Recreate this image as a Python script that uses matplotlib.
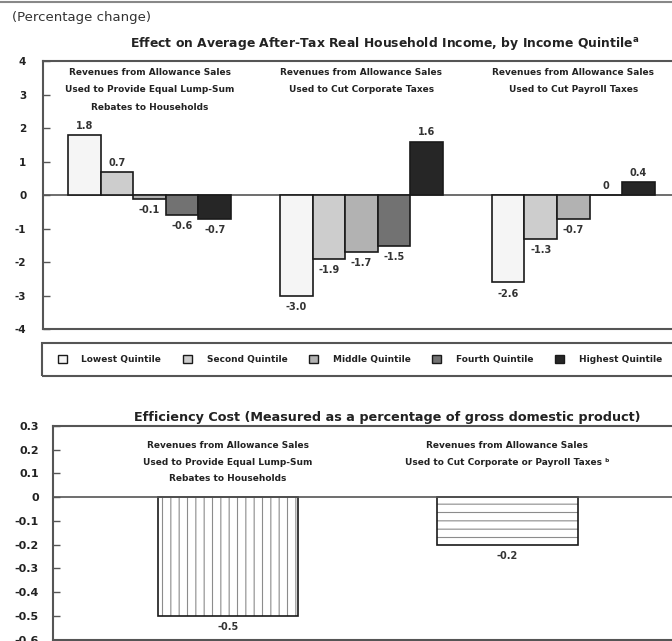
import numpy as np
import matplotlib
matplotlib.use("Agg")
import matplotlib.pyplot as plt
from matplotlib.patches import Patch, Rectangle
from matplotlib.lines import Line2D
from matplotlib.ticker import FixedLocator, FixedFormatter

plt.rcParams["font.family"] = ["DejaVu Sans"]
plt.rcParams["axes.unicode_minus"] = False
plt.rcParams["hatch.linewidth"] = 0.8
plt.rcParams["mathtext.default"] = "regular"

# Data
quintiles = ["Lowest Quintile", "Second Quintile", "Middle Quintile",
             "Fourth Quintile", "Highest Quintile"]
scenarios = [
    "Revenues from Allowance Sales\nUsed to Provide Equal Lump-Sum\nRebates to Households",
    "Revenues from Allowance Sales\nUsed to Cut Corporate Taxes",
    "Revenues from Allowance Sales\nUsed to Cut Payroll Taxes",
]
lump_sum = [1.8, 0.7, -0.1, -0.6, -0.7]
corporate = [-3.0, -1.9, -1.7, -1.5, 1.6]
payroll = [-2.6, -1.3, -0.7, 0.0, 0.4]
income_ticks = [4, 3, 2, 1, 0, -1, -2, -3, -4]
income_tick_labels = ["4", "3", "2", "1", "0", "-1", "-2", "-3", "-4"]

eff_scenarios = [
    "Revenues from Allowance Sales\nUsed to Provide Equal Lump-Sum\nRebates to Households",
    "Revenues from Allowance Sales\nUsed to Cut Corporate or Payroll Taxes \u1d47",
]
eff_cost = [-0.5, -0.2]
eff_ticks = [0.3, 0.2, 0.1, 0, -0.1, -0.2, -0.3, -0.4, -0.5, -0.6]
eff_tick_labels = ["0.3", "0.2", "0.1", "0", "-0.1", "-0.2", "-0.3", "-0.4", "-0.5", "-0.6"]

colors = ["#f5f5f5", "#cdcdcd", "#b2b2b2", "#727272", "#262626"]
frame = "#555555"
ink = "#222222"


def fmt(v):
    return "0" if v == 0 else f"{v:.1f}"


W, H = 672, 641
fig = plt.figure(figsize=(W / 100, H / 100), dpi=100)

# rule across the top
fig.add_artist(Line2D([0, 1], [1 - 2 / H] * 2, transform=fig.transFigure,
                      color="#888888", lw=1.5))
fig.text(12 / W, 1 - 18 / H, "(Percentage change)", fontsize=9.5, color="#333333",
         ha="left", va="center")
fig.text(385 / W, 1 - 44 / H,
         "Effect on Average After-Tax Real Household Income, by Income Quintile$^{a}$",
         fontsize=8.9, fontweight="bold", color=ink, ha="center", va="center")

# ---- top panel: income effects ----
ax1 = fig.add_axes([43 / W, 1 - 329.4 / H, 1 - 43 / W, (329.4 - 61) / H])
groups = [lump_sum, corporate, payroll]
step = 6.5
for i, q in enumerate(quintiles):
    x = np.arange(len(groups)) * step + i
    vals = [g[i] for g in groups]
    ax1.bar(x, vals, width=1.0, color=colors[i], edgecolor="#1a1a1a",
            linewidth=1.2, label=q, zorder=3)
    for xi, v in zip(x, vals):
        ax1.annotate(fmt(v), (xi, v), xytext=(0, 6.5 if v >= 0 else -8),
                     textcoords="offset points", ha="center", va="center",
                     fontsize=7, fontweight="bold", color="#333333")
for g, label in enumerate(scenarios):
    ax1.text(g * step + 2, 3.79, label, ha="center", va="top", fontsize=6.5,
             fontweight="bold", color=ink, linespacing=2.2)
ax1.axhline(0, color=frame, lw=1.2, zorder=2)
ax1.set_xlim(-1.27, 18.03)
ax1.set_ylim(-4, 4)
ax1.set_xticks([])
ax1.yaxis.set_major_locator(FixedLocator(income_ticks))
ax1.yaxis.set_major_formatter(FixedFormatter(income_tick_labels))
ax1.tick_params(axis="y", direction="in", length=5, width=1, color=frame,
                pad=12, labelsize=7.5, labelcolor=ink)
for t in ax1.get_yticklabels():
    t.set_fontweight("bold")
ax1.spines["right"].set_visible(False)
for s in ["left", "top", "bottom"]:
    ax1.spines[s].set_color(frame)
    ax1.spines[s].set_linewidth(1.5)

# legend strip
fig.add_artist(Rectangle((42 / W, 1 - 376 / H), 1, 33 / H, transform=fig.transFigure,
                         fill=False, edgecolor=frame, lw=1.5))
handles = [Patch(facecolor=c, edgecolor="#1a1a1a", lw=1) for c in colors]
fig.legend(handles, quintiles, ncol=5, loc="center",
           bbox_to_anchor=(58 / W, 1 - 376 / H, (662 - 58) / W, 33 / H),
           mode="expand", frameon=False, borderpad=0, borderaxespad=0,
           handlelength=1.0, handleheight=1.0, handletextpad=1.6,
           prop={"size": 6.5, "weight": "bold"}, labelcolor=ink)

fig.text(387 / W, 1 - 418 / H,
         "Efficiency Cost (Measured as a percentage of gross domestic product)",
         fontsize=9.2, fontweight="bold", color=ink, ha="center", va="center")

# ---- bottom panel: efficiency cost ----
ax2 = fig.add_axes([52.7 / W, 1 - 639.5 / H, 1 - 52.7 / W, 213.5 / H])
xb = np.arange(len(eff_cost))
hatched = ax2.bar(xb, eff_cost, width=0.504, color="white", edgecolor="#8c8c8c",
                  linewidth=0, zorder=2)
for p, h in zip(hatched, ["||", "--"]):
    p.set_hatch(h)
ax2.bar(xb, eff_cost, width=0.504, fill=False, edgecolor="#1a1a1a",
        linewidth=1.2, zorder=3)
for xi, v in zip(xb, eff_cost):
    ax2.annotate(fmt(v), (xi, v), xytext=(0, -8), textcoords="offset points",
                 ha="center", va="center", fontsize=7, fontweight="bold",
                 color="#333333")
for xi, label in zip(xb, eff_scenarios):
    ax2.text(xi, 0.237, label, ha="center", va="top", fontsize=6.5,
             fontweight="bold", color=ink, linespacing=2.1)
ax2.axhline(0, color=frame, lw=1.2, zorder=4)
ax2.set_xlim(-0.628, 1.590)
ax2.set_ylim(-0.6, 0.3)
ax2.set_xticks([])
ax2.yaxis.set_major_locator(FixedLocator(eff_ticks))
ax2.yaxis.set_major_formatter(FixedFormatter(eff_tick_labels))
ax2.tick_params(axis="y", direction="in", length=5, width=1, color=frame,
                pad=10, labelsize=8, labelcolor=ink)
for t in ax2.get_yticklabels():
    t.set_fontweight("bold")
ax2.spines["right"].set_visible(False)
for s in ["left", "top", "bottom"]:
    ax2.spines[s].set_color(frame)
    ax2.spines[s].set_linewidth(1.5)

fig.savefig("out.png", dpi=100)
